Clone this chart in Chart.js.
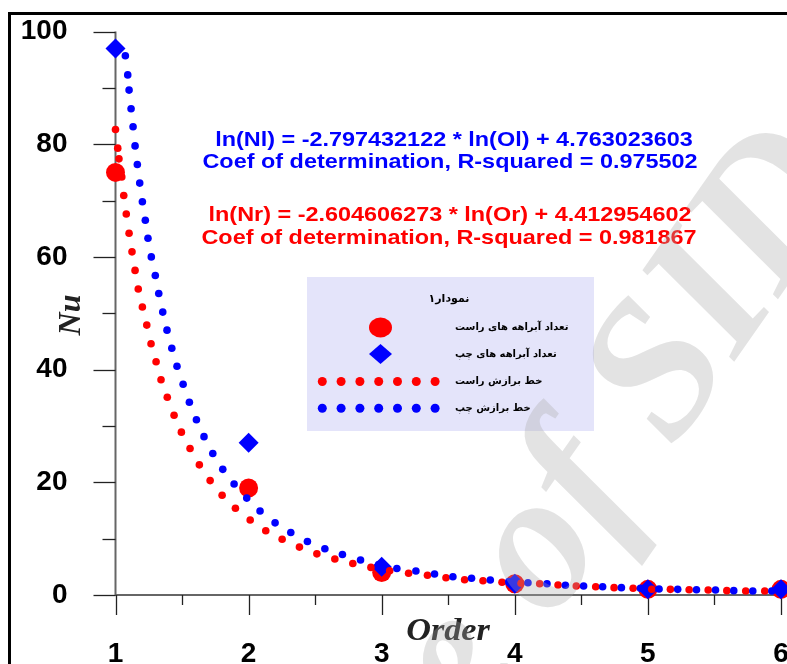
<!DOCTYPE html>
<html><head><meta charset="utf-8">
<script src="https://cdn.jsdelivr.net/npm/chart.js@4.4.1/dist/chart.umd.min.js"></script>
<style>
html,body{margin:0;padding:0;background:#fff;}
#wrap{position:relative;width:787px;height:664px;overflow:hidden;}
#frame{position:absolute;left:8px;top:12px;width:800px;height:700px;border-top:3px solid #000;border-left:3px solid #000;}
#c{position:absolute;left:0;top:0;}
</style></head><body>
<div id="wrap"><div id="frame"></div><canvas id="c" width="787" height="664"></canvas></div>
<script>
// ---- data ----
const orders = [1, 2, 3, 4, 5, 6];
const rightCounts = [75, 19, 4, 2, 1, 1];
const leftCounts = [97, 27, 5, 2, 1, 1];

const rightFitX = [1.00,1.017,1.026,1.047,1.062,1.081,1.102,1.124,1.147,1.171,1.202,1.235,1.267,1.305,1.342,1.389,1.44,1.495,1.56,1.63,1.711,1.801,1.901,2.012,2.129,2.252,2.382,2.513,2.648,2.783,2.919,3.06,3.202,3.344,3.483,3.623,3.761,3.904,4.047,4.187,4.325,4.462,4.608,4.746,4.889,5.029,5.169,5.31,5.453,5.593,5.735,5.878,6.019];
const rightFitY = [82.6,79.3,77.4,74.2,70.9,67.6,64.2,60.9,57.6,54.3,51.1,47.9,44.6,41.4,38.2,35.1,31.9,28.9,26.0,23.1,20.3,17.7,15.4,13.3,11.4,9.9,8.5,7.3,6.4,5.6,4.9,4.3,3.85,3.5,3.07,2.7,2.54,2.25,2.08,2.0,1.77,1.6,1.47,1.3,1.19,1.01,1.0,0.94,0.89,0.77,0.71,0.71,0.66];

const leftFitX = [1.074,1.092,1.102,1.117,1.132,1.147,1.164,1.182,1.202,1.224,1.244,1.269,1.299,1.325,1.355,1.387,1.423,1.462,1.508,1.555,1.608,1.665,1.731,1.806,1.891,1.986,2.086,2.199,2.317,2.442,2.573,2.705,2.841,2.977,3.114,3.257,3.397,3.535,3.675,3.816,3.955,4.099,4.242,4.38,4.517,4.66,4.801,4.944,5.084,5.224,5.365,5.508,5.645,5.788,5.931];
const leftFitY = [95.7,92.3,89.6,86.3,83.1,79.7,76.4,73.1,69.8,66.5,63.3,60.0,56.7,53.5,50.2,47.0,43.8,40.6,37.4,34.2,31.1,28.1,25.1,22.3,19.7,17.2,14.9,12.8,11.1,9.5,8.2,7.2,6.2,5.4,4.7,4.26,3.73,3.25,2.96,2.66,2.4,2.18,2.0,1.72,1.6,1.47,1.3,1.19,1.06,1.0,0.94,0.89,0.77,0.71,0.71];

const xTicks = [1, 2, 3, 4, 5, 6];
const yTicks = [0, 20, 40, 60, 80, 100];
const xTitle = 'Order';
const yTitle = 'Nu';
const leftEq = ['ln(Nl) = -2.797432122 * ln(Ol) + 4.763023603', 'Coef of determination, R-squared = 0.975502'];
const rightEq = ['ln(Nr) = -2.604606273 * ln(Or) + 4.412954602', 'Coef of determination, R-squared = 0.981867'];
const legendTitle = 'نمودار۱';
const legendLabels = ['تعداد آبراهه های راست', 'تعداد آبراهه های چپ', 'خط برازش راست', 'خط برازش چپ'];
const watermarkA = 'Archive ';
const watermarkB = 'of SID';

const RED = '#ff0000', BLUE = '#0000ff';
const toXY = (xs, ys) => xs.map((v, i) => ({x: v, y: ys[i]}));

function wideText(ctx, txt, cx, cy, sx) {
  ctx.save(); ctx.translate(cx, cy); ctx.scale(sx, 1); ctx.fillText(txt, 0, 0); ctx.restore();
}

const deco = {
  id: 'deco',
  beforeDatasetsDraw(chart) {
    const {ctx, scales: {x, y}} = chart;
    ctx.save();
    const x0 = x.getPixelForValue(1), y0 = y.getPixelForValue(0), yTop = y.getPixelForValue(100);
    ctx.strokeStyle = '#666'; ctx.lineWidth = 2;
    ctx.beginPath(); ctx.moveTo(x0, yTop); ctx.lineTo(x0, y0); ctx.lineTo(chart.width, y0); ctx.stroke();
    ctx.strokeStyle = '#222'; ctx.lineWidth = 1.3;
    for (let i = 0; i < yTicks.length; i++) {
      const py = Math.round(y.getPixelForValue(yTicks[i])) + 0.5;
      ctx.beginPath(); ctx.moveTo(x0 - 22, py); ctx.lineTo(x0, py); ctx.stroke();
      if (i < yTicks.length - 1) {
        const pm = Math.round(y.getPixelForValue((yTicks[i] + yTicks[i + 1]) / 2)) + 0.5;
        ctx.beginPath(); ctx.moveTo(x0 - 13, pm); ctx.lineTo(x0, pm); ctx.stroke();
      }
    }
    for (let i = 0; i < xTicks.length; i++) {
      const px = Math.round(x.getPixelForValue(xTicks[i])) + 0.5;
      ctx.beginPath(); ctx.moveTo(px, y0); ctx.lineTo(px, y0 + 20); ctx.stroke();
      if (i < xTicks.length - 1) {
        const pm = Math.round(x.getPixelForValue((xTicks[i] + xTicks[i + 1]) / 2)) + 0.5;
        ctx.beginPath(); ctx.moveTo(pm, y0); ctx.lineTo(pm, y0 + 10); ctx.stroke();
      }
    }
    // axis titles
    ctx.fillStyle = '#222';
    ctx.font = 'bold italic 32px "Liberation Serif", "Times New Roman", serif';
    ctx.textAlign = 'center'; ctx.textBaseline = 'middle';
    wideText(ctx, xTitle, 448, 632, 1.07);
    ctx.save(); ctx.translate(72, 315); ctx.rotate(-Math.PI / 2); ctx.fillText(yTitle, 0, 0); ctx.restore();
    // equations
    ctx.font = 'bold 21px "Liberation Sans", Arial, sans-serif';
    ctx.fillStyle = BLUE;
    wideText(ctx, leftEq[0], 454, 140, 1.115);
    wideText(ctx, leftEq[1], 450, 162, 1.115);
    ctx.fillStyle = RED;
    wideText(ctx, rightEq[0], 450, 215, 1.115);
    wideText(ctx, rightEq[1], 449, 238, 1.115);
    // legend box
    ctx.fillStyle = '#e4e4fa';
    ctx.fillRect(307, 277, 287, 154);
    ctx.fillStyle = '#000';
    ctx.font = 'bold 11px "DejaVu Sans", sans-serif';
    ctx.textAlign = 'center';
    ctx.fillText(legendTitle, 449, 299);
    ctx.font = 'bold 10px "DejaVu Sans", sans-serif';
    ctx.textAlign = 'left';
    const ly = [327.5, 354, 381.5, 408];
    legendLabels.forEach((t, i) => ctx.fillText(t, 455, ly[i]));
    ctx.fillStyle = RED;
    ctx.beginPath(); ctx.ellipse(380.5, 327.5, 11.5, 10, 0, 0, Math.PI * 2); ctx.fill();
    ctx.fillStyle = BLUE;
    ctx.beginPath(); ctx.moveTo(369, 354); ctx.lineTo(380.5, 344); ctx.lineTo(392, 354); ctx.lineTo(380.5, 364); ctx.closePath(); ctx.fill();
    for (let k = 0; k < 7; k++) {
      const dx = 322.3 + k * 18.8;
      ctx.fillStyle = RED; ctx.beginPath(); ctx.arc(dx, 381.5, 4.5, 0, Math.PI * 2); ctx.fill();
      ctx.fillStyle = BLUE; ctx.beginPath(); ctx.arc(dx, 408.3, 4.5, 0, Math.PI * 2); ctx.fill();
    }
    ctx.restore();
  },
  afterDatasetsDraw(chart) {
    const {ctx} = chart;
    ctx.save();
    ctx.translate(552, 622);
    ctx.rotate(-55 * Math.PI / 180);
    ctx.font = 'bold italic 195px "Liberation Serif", serif';
    ctx.fillStyle = 'rgba(170,170,170,0.33)';
    ctx.textBaseline = 'alphabetic';
    ctx.textAlign = 'right';
    ctx.fillText(watermarkA, 0, 0);
    ctx.textAlign = 'left';
    ctx.fillText(watermarkB, 0, 0);
    ctx.restore();
  }
};

new Chart(document.getElementById('c'), {
  type: 'scatter',
  data: {
    datasets: [
      {label: 'fit left', data: toXY(leftFitX, leftFitY), pointRadius: 3.8, pointBackgroundColor: BLUE, pointBorderWidth: 0, order: 0, clip: false},
      {label: 'fit right', data: toXY(rightFitX, rightFitY), pointRadius: 3.8, pointBackgroundColor: RED, pointBorderWidth: 0, order: 1, clip: false},
      {label: 'left', data: toXY(orders, leftCounts), pointStyle: 'rectRot', pointRadius: 10, pointBackgroundColor: BLUE, pointBorderWidth: 0, order: 2, clip: false},
      {label: 'right', data: toXY(orders, rightCounts), pointRadius: 9.5, pointBackgroundColor: RED, pointBorderWidth: 0, order: 3, clip: false}
    ]
  },
  options: {
    responsive: false, animation: false, devicePixelRatio: 1,
    layout: {padding: {left: 0, right: 0, top: 31.5, bottom: 0}},
    plugins: {legend: {display: false}, tooltip: {enabled: false}},
    scales: {
      x: {
        type: 'linear', min: 1, max: 5.97,
        afterBuildTicks: s => { s.ticks = xTicks.map(v => ({value: v})); },
        afterFit: s => { s.height = 69; s.paddingLeft = 0; s.paddingRight = 0; },
        border: {display: false},
        grid: {display: false, drawTicks: true, tickLength: 42},
        ticks: {padding: 0, color: '#000', font: {family: '"Liberation Sans", Arial, sans-serif', size: 28, weight: 'bold'}}
      },
      y: {
        type: 'linear', min: 0, max: 100,
        afterBuildTicks: s => { s.ticks = yTicks.map(v => ({value: v})); },
        afterFit: s => { s.width = 115.5; },
        border: {display: false},
        grid: {display: false, drawTicks: true, tickLength: 48},
        ticks: {padding: 0, color: '#000', font: {family: '"Liberation Sans", Arial, sans-serif', size: 28, weight: 'bold'}}
      }
    }
  },
  plugins: [deco]
});
</script>
</body></html>
